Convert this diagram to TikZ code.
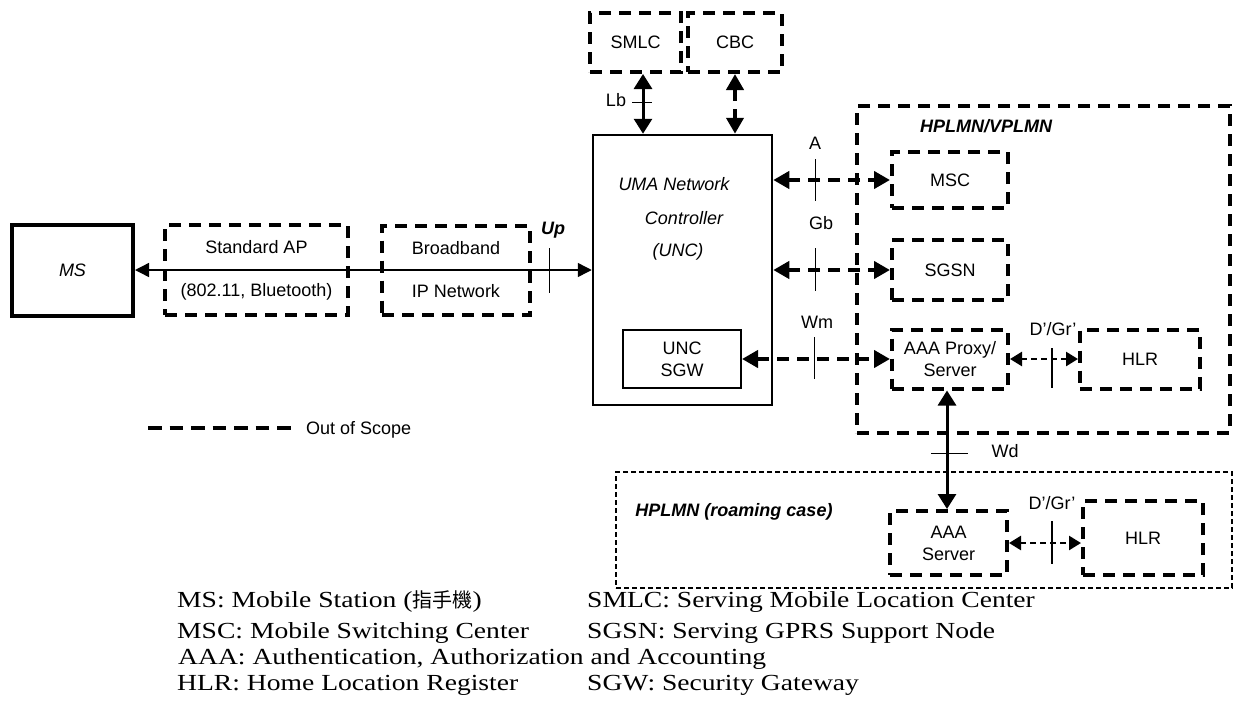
\documentclass[tikz,border=0pt]{standalone}
\usepackage{fontspec}
\setmainfont{Liberation Serif}
\setsansfont{Liberation Sans}
\newfontfamily\cjkfont{Noto Sans CJK TC}
\newfontfamily\legendfont{Liberation Serif}[FakeStretch=1.2]
\usetikzlibrary{arrows.meta,calc}

\begin{document}
\begin{tikzpicture}[x=1pt,y=-1pt,
  sans/.style={font=\sffamily\fontsize{18}{21}\selectfont},
  lbl/.style={sans, inner sep=0pt},
  boxtext/.style={sans, align=center, inner sep=0pt},
  oos/.style={boxtext, draw, line width=4pt, dash pattern=on 12pt off 8pt},
  solidbox/.style={boxtext, draw, line width=2.5pt},
  region/.style={draw, line width=4pt, dash pattern=on 12pt off 8pt},
  thinregion/.style={draw, line width=1.3pt, dash pattern=on 5pt off 3pt},
  thick-dash/.style={line width=4pt, dash pattern=on 12pt off 8pt,
    {Triangle[length=16pt,width=17pt]}-{Triangle[length=16pt,width=17pt]}},
  thick-solid/.style={line width=3pt,
    {Triangle[length=15pt,width=18pt]}-{Triangle[length=15pt,width=18pt]}},
  light-dash/.style={line width=2.5pt, dash pattern=on 6pt off 4pt,
    {Triangle[length=12pt,width=14pt]}-{Triangle[length=12pt,width=14pt]}},
  thin-link/.style={line width=1.4pt,
    {Triangle[length=14pt,width=14pt]}-{Triangle[length=14pt,width=14pt]}},
  tickmark/.style={line width=1.5pt},
  legend/.style={font=\legendfont\fontsize{23}{27}\selectfont, anchor=base west, inner sep=0pt}
]
\useasboundingbox (0,0) rectangle (1241,707);

% ---------- access side ----------
\node[boxtext, draw, line width=4pt, minimum width=121pt, minimum height=91pt,
      font=\sffamily\itshape\fontsize{18}{21}\selectfont] (MS) at (72.5,270) {MS};
\node[oos, minimum width=183pt, minimum height=90pt,
      font=\sffamily\fontsize{18}{43}\selectfont] (AP) at (256.5,270)
      {Standard AP\\(802.11, Bluetooth)};
\node[oos, minimum width=148pt, minimum height=89pt,
      font=\sffamily\fontsize{18}{43}\selectfont] (IP) at (456,270)
      {Broadband\\IP Network};

% ---------- UMA network controller ----------
\node[solidbox, minimum width=179pt, minimum height=270pt] (UNC) at (682.5,270) {};
\node[lbl, font=\sffamily\itshape\fontsize{18}{21}\selectfont, anchor=base] (uncA) at (674,190) {UMA Network};
\node[lbl, font=\sffamily\itshape\fontsize{18}{21}\selectfont, anchor=base] (uncB) at (684,224) {Controller};
\node[lbl, font=\sffamily\itshape\fontsize{18}{21}\selectfont, anchor=base] (uncC) at (678,256) {(UNC)};
\node[solidbox, line width=2pt, minimum width=118pt, minimum height=58pt,
      font=\sffamily\fontsize{18}{22}\selectfont] (SGW) at (682,359) {UNC\\SGW};

\node[oos, minimum width=91pt, minimum height=59pt] (SMLC) at (635.5,42.5) {SMLC};
\node[oos, minimum width=94pt, minimum height=59pt] (CBC) at (735,42.5) {CBC};

% ---------- HPLMN/VPLMN ----------
\node[region, minimum width=373pt, minimum height=327pt] (HV) at (1043.5,269.5) {};
\node[lbl, font=\sffamily\bfseries\itshape\fontsize{18}{21}\selectfont] (HVlbl) at (986,126) {HPLMN/VPLMN};
\node[oos, minimum width=116pt, minimum height=56pt] (MSC) at (950,180) {MSC};
\node[oos, minimum width=116pt, minimum height=60pt] (SGSN) at (950,270) {SGSN};
\node[oos, minimum width=116pt, minimum height=59pt,
      font=\sffamily\fontsize{18}{22}\selectfont] (AAAP) at (950,359) {AAA Proxy/\\Server};
\node[oos, minimum width=120pt, minimum height=59pt] (HLRa) at (1140,359) {HLR};

% ---------- HPLMN (roaming case) ----------
\node[thinregion, minimum width=616pt, minimum height=116pt] (HR) at (924,530) {};
\node[lbl, font=\sffamily\bfseries\itshape\fontsize{18}{21}\selectfont] (HRlbl) at (734,512) {HPLMN (roaming case)};
\node[oos, minimum width=117pt, minimum height=64pt,
      font=\sffamily\fontsize{18}{22}\selectfont] (AAAS) at (948.5,543) {AAA\\Server};
\node[oos, minimum width=120pt, minimum height=74pt] (HLRb) at (1143,538) {HLR};

% ---------- interfaces ----------
% Up
\draw[thin-link] (MS.east) -- coordinate[pos=0.907] (tUp) (UNC.west);
\draw[tickmark] (tUp) ++(0,-22) -- ++(0,45);
\node[lbl, font=\sffamily\bfseries\itshape\fontsize{18}{21}\selectfont] (UpLbl) at (553,230) {Up};

% Lb and CBC
\draw[thick-solid] ([xshift=7.5pt]SMLC.south) -- coordinate[pos=0.48] (tLb)
      ([xshift=7.5pt]SMLC.south |- UNC.north);
\draw[tickmark] (tLb) ++(-11,0) -- ++(20,0);
\node[lbl] (LbLbl) at (616,100) {Lb};
\draw[thick-dash] (CBC.south) -- (CBC.south |- UNC.north);

% A, Gb, Wm
\draw[thick-dash] (UNC.east |- MSC.west) -- coordinate[pos=0.36] (tA) (MSC.west);
\draw[tickmark] (tA) ++(0,-21) -- ++(0,42);
\node[lbl] (ALbl) at (815,143) {A};

\draw[thick-dash] (UNC.east |- SGSN.west) -- coordinate[pos=0.36] (tGb) (SGSN.west);
\draw[tickmark] (tGb) ++(0,-22) -- ++(0,43);
\node[lbl] (GbLbl) at (821,223) {Gb};

\draw[thick-dash] (SGW.east) -- coordinate[pos=0.49] (tWm) (AAAP.west);
\draw[tickmark] (tWm) ++(0,-22) -- ++(0,42);
\node[lbl] (WmLbl) at (817,322) {Wm};

% D'/Gr' inside HPLMN/VPLMN
\draw[light-dash] (AAAP.east) -- coordinate[pos=0.62] (tDa) (HLRa.west);
\draw[tickmark] (tDa) ++(0,-11) -- ++(0,40);
\node[lbl] (DaLbl) at (1053,329) {D’/Gr’};

% Wd
\draw[thick-solid] ([xshift=-3pt]AAAP.south) -- coordinate[pos=0.53] (tWd)
      ([xshift=-3pt]AAAP.south |- AAAS.north);
\draw[tickmark] (tWd) ++(-16,0) -- ++(37,0);
\node[lbl] (WdLbl) at (1005,451) {Wd};

% D'/Gr' in roaming case
\draw[light-dash] (AAAS.east) -- coordinate[pos=0.6] (tDb) (AAAS.east -| HLRb.west);
\draw[tickmark] (tDb) ++(0,-22) -- ++(0,43);
\node[lbl] (DbLbl) at (1052,503) {D’/Gr’};

% ---------- legend ----------
\coordinate (legA) at (148,428);
\coordinate (legB) at (292,428);
\draw[line width=4pt, dash pattern=on 13.5pt off 8pt] (legA) -- (legB);
\node[lbl, anchor=west] (legT) at (306,430) {Out of Scope};

% ---------- abbreviations ----------
\node[legend] (abbMS)   at (177,607) {MS: Mobile Station ({\cjkfont\fontsize{20}{24}\selectfont 指手機})};
\node[legend] (abbSMLC) at (587,607) {SMLC: Serving Mobile Location Center};
\node[legend] (abbMSC)  at (177,638) {MSC: Mobile Switching Center};
\node[legend] (abbSGSN) at (587,638) {SGSN: Serving GPRS Support Node};
\node[legend] (abbAAA)  at (178,664) {AAA: Authentication, Authorization and Accounting};
\node[legend] (abbHLR)  at (177,690) {HLR: Home Location Register};
\node[legend] (abbSGW)  at (587,690) {SGW: Security Gateway};
\end{tikzpicture}
\end{document}
